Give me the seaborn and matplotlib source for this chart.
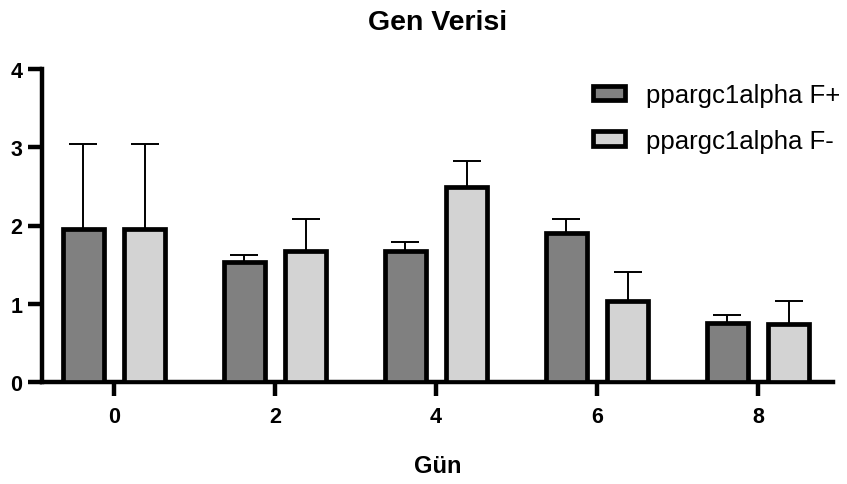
import matplotlib
matplotlib.use("Agg")
import matplotlib.pyplot as plt
import seaborn as sns
import pandas as pd
import numpy as np

days = ["0", "2", "4", "6", "8"]
series = ["ppargc1alpha F+", "ppargc1alpha F-"]
f_plus = [1.95, 1.53, 1.67, 1.90, 0.75]
f_minus = [1.95, 1.68, 2.49, 1.04, 0.74]
f_plus_err = [1.09, 0.09, 0.12, 0.18, 0.11]
f_minus_err = [1.09, 0.40, 0.34, 0.37, 0.29]
colors = ["#808080", "#d3d3d3"]

df = pd.DataFrame({
    "Gün": days * 2,
    "value": f_plus + f_minus,
    "series": [series[0]] * 5 + [series[1]] * 5,
})
errs = f_plus_err + f_minus_err

sns.set_theme(style="ticks")
plt.rcParams["font.family"] = ["Liberation Sans", "DejaVu Sans"]
plt.rcParams["text.color"] = "black"
plt.rcParams["axes.edgecolor"] = "black"
plt.rcParams["xtick.color"] = "black"
plt.rcParams["ytick.color"] = "black"
plt.rcParams["axes.labelcolor"] = "black"

fig = plt.figure(figsize=(8.47, 4.85), dpi=100)
ax = fig.add_axes([42 / 847, 1 - 383 / 485, (833 - 42) / 847, (383 - 70) / 485])

sns.barplot(data=df, x="Gün", y="value", hue="series", order=days,
            hue_order=series, palette=colors, width=0.76, gap=0.34,
            errorbar=None, edgecolor="black", linewidth=3.4, ax=ax, zorder=3)

bars = [p for p in ax.patches if p.get_height() > 0][:10]
xs = [p.get_x() + p.get_width() / 2 for p in bars]
hs = [p.get_height() for p in bars]
ax.errorbar(xs, hs, yerr=[np.zeros(len(errs)), errs], fmt="none",
            ecolor="black", elinewidth=1.4, capsize=10, capthick=1.4, zorder=2)

ax.set_ylim(0, 4)
ax.set_xlim(-0.447, 4.466)
ax.set_yticks([0, 1, 2, 3, 4])
for side in ["top", "right"]:
    ax.spines[side].set_visible(False)
for side in ["left", "bottom"]:
    ax.spines[side].set_linewidth(3.2)
    ax.spines[side].set_color("black")
ax.tick_params(axis="both", width=3.2, length=10, labelsize=15.5, colors="black")
ax.tick_params(axis="x", pad=7)
ax.tick_params(axis="y", pad=4)
for lab in ax.get_xticklabels() + ax.get_yticklabels():
    lab.set_fontweight("bold")

ax.set_xlabel("Gün", fontsize=17, fontweight="bold", labelpad=20, color="black")
ax.set_ylabel("")
ax.set_title("Gen Verisi", fontsize=20.5, fontweight="bold", pad=29, color="black")

handles, labels = ax.get_legend_handles_labels()
leg = ax.legend(handles, labels, loc="upper left", frameon=False,
                bbox_to_anchor=(593 / 847, 1 - 84 / 485), bbox_transform=fig.transFigure,
                fontsize=18.5, handlelength=1.25, handleheight=0.5, handletextpad=0.8,
                labelspacing=0.85, borderpad=0, borderaxespad=0)
for t in leg.get_texts():
    t.set_color("black")

fig.savefig("out.png", dpi=100)
